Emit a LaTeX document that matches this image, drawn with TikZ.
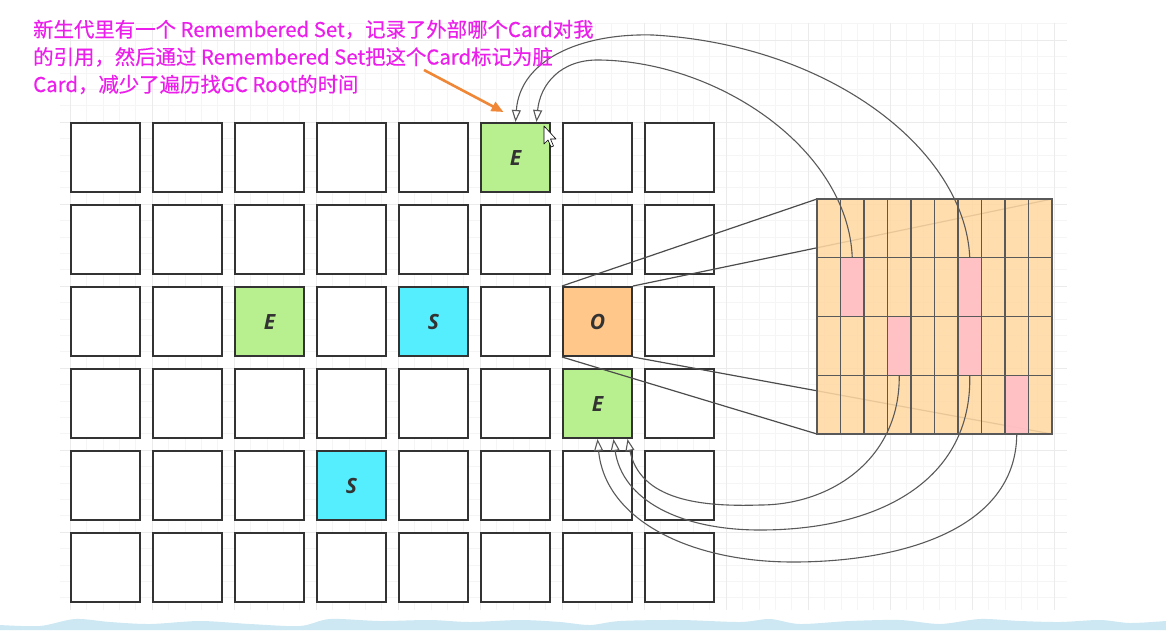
\documentclass[tikz,border=0pt]{standalone}
\usepackage{fontspec}
\setmainfont{Noto Sans CJK SC}
\newfontfamily\notefont{Noto Sans CJK SC}[FakeBold=0.4]
\newfontfamily\cellfont{Open Sans}
\usetikzlibrary{arrows.meta}
\definecolor{youngE}{RGB}{185,240,143}
\definecolor{survS}{RGB}{85,238,255}
\definecolor{oldO}{RGB}{255,199,138}
\definecolor{cardbg}{RGB}{255,216,162}
\definecolor{dirty}{RGB}{255,190,200}
\definecolor{notemag}{RGB}{235,30,235}
\definecolor{hintor}{RGB}{240,135,55}
\definecolor{wave}{RGB}{205,232,242}

\begin{document}
\begin{tikzpicture}[x=1pt, y=-1pt,
  region/.style={rectangle, draw=black!80, line width=2pt, fill=white, minimum size=69pt, inner sep=0pt,
    font=\cellfont\bfseries\itshape\fontsize{21}{21}\selectfont, text=black!80},
  card/.style={rectangle, fill=dirty, fill opacity=0.88, minimum width=23.5pt, minimum height=58.75pt, inner sep=0pt},
  cardline/.style={draw=black!65, line width=1.4pt},
  zoomline/.style={draw=black!70, line width=1.2pt},
  rset/.style={draw=black!65, line width=1.1pt, -{Triangle[fill=white, length=12pt, width=9pt]}},
  note/.style={anchor=base west, inner sep=0pt, text=notemag, font=\notefont\fontsize{20.4}{27.5}\selectfont},
]
\useasboundingbox (0,0) rectangle (1166,630);

% ─── Background grid ───
\foreach \k in {0,...,60} {
  \draw[black!4] ({70+16.4*\k},23) -- ({70+16.4*\k},610);
}
\foreach \k in {-6,...,29} {
  \draw[black!4] (60,{122+16.4*\k}) -- (1067,{122+16.4*\k});
}
\foreach \k in {0,...,12} {
  \draw[black!8] ({70+82*\k},23) -- ({70+82*\k},610);
}
\foreach \k in {-1,...,5} {
  \draw[black!8] (60,{122+82*\k}) -- (1067,{122+82*\k});
}

% bottom band
\fill[wave] (0,630) -- plot[smooth] coordinates {(0,625) (40,626) (75,619) (110,622) (150,624) (200,621)
  (250,624) (300,626) (330,619) (380,621) (430,620) (470,622) (520,620) (560,622) (590,625) (620,621)
  (680,620) (740,622) (770,619) (800,624) (850,621) (900,620) (940,624) (980,619) (1020,621)
  (1060,622) (1100,620) (1130,623) (1166,621)} -- (1166,630) -- cycle;

% ─── Heap regions ───
\foreach \c in {0,...,7} {
  \foreach \r in {0,...,5} {
    \node[region] (r\c-\r) at ({105.5+82*\c},{157.5+82*\r}) {};
  }
}
\node[region, fill=youngE] (eTop) at (r5-0) {E};
\node[region, fill=youngE] (eMid) at (r2-2) {E};
\node[region, fill=survS] (sMid) at (r4-2) {S};
\node[region, fill=oldO] (old) at (r6-2) {O};
\node[region, fill=youngE] (eLow) at (r6-3) {E};
\node[region, fill=survS] (sLow) at (r3-4) {S};

% ─── Card table of the old region ───
\draw[zoomline] (old.north west) -- (817,199) coordinate (tnw);
\draw[zoomline] (old.north east) -- (1052,199) coordinate (tne);
\draw[zoomline] (old.south east) -- (1052,434) coordinate (tse);
\draw[zoomline] (old.south west) -- (817,434) coordinate (tsw);

\node[rectangle, fill=cardbg, fill opacity=0.88, minimum width=235pt, minimum height=235pt, inner sep=0pt] (ctab) at (934.5,316.5) {};
\foreach \c/\r in {1/1, 6/1, 3/2, 6/2, 8/3} {
  \node[card] (k\c-\r) at ({817+23.5*\c+11.75},{199+58.75*\r+29.375}) {};
}
\foreach \i in {1,...,9} {
  \draw[cardline] ({817+23.5*\i},199) -- ({817+23.5*\i},434);
}
\foreach \j in {1,2,3} {
  \draw[cardline] (817,{199+58.75*\j}) -- (1052,{199+58.75*\j});
}
\draw[cardline, line width=1.8pt] (ctab.north west) rectangle (ctab.south east);

% ─── Remembered set references ───
\draw[rset] (k6-1.north) .. controls (965,150) and (830,45) .. (653,35)
  .. controls (580,33) and (520,60) .. (eTop.north);
\draw[rset] (k1-1.north) .. controls (848,150) and (720,62) .. (600,60)
  .. controls (560,59) and (540,85) .. ([xshift=21pt]eTop.north);

\draw[rset] (k3-2.south) .. controls (900,460) and (830,505) .. (760,505)
  .. controls (700,507) and (640,500) .. ([xshift=30pt]eLow.south);
\draw[rset] (k6-2.south) .. controls (972,480) and (880,530) .. (760,530)
  .. controls (680,530) and (622,500) .. ([xshift=16pt]eLow.south);
\draw[rset] (k8-3.south) .. controls (1016,530) and (900,562) .. (793,562)
  .. controls (690,562) and (605,520) .. (eLow.south);

% ─── Note ───
\node[note] (note1) at (33,37) {新生代里有一个 Remembered Set，记录了外部哪个Card对我};
\node[note] (note2) at (33,64.5) {的引用，然后通过 Remembered Set把这个Card标记为脏};
\node[note] (note3) at (33,92) {Card，减少了遍历找GC Root的时间};

\coordinate (hintstart) at (424,70);
\draw[hintor, line width=2.6pt, -{Triangle[length=12pt, width=10pt]}] (hintstart) -- ([xshift=-12pt, yshift=10pt]eTop.north);

% pointer
\draw[fill=white, line width=0.6pt, line join=round] (544,126) -- (544,144) -- (548,140) -- (551,147)
  -- (553.5,146) -- (550.5,139) -- (556,139) -- cycle;

\end{tikzpicture}
\end{document}
